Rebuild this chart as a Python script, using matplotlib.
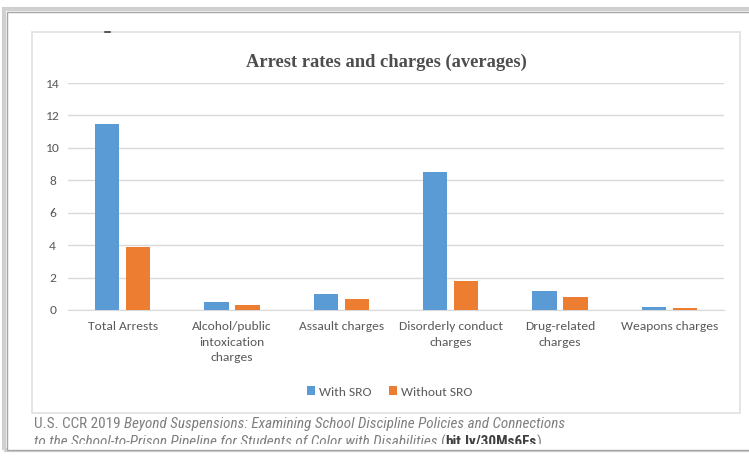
import matplotlib
matplotlib.use("Agg")
import matplotlib.pyplot as plt
from matplotlib.patches import Rectangle
from matplotlib.lines import Line2D
import numpy as np

categories = ["Total Arrests", "Alcohol/public\nintoxication\ncharges", "Assault charges",
              "Disorderly conduct\ncharges", "Drug-related\ncharges", "Weapons charges"]
with_sro = [11.5, 0.5, 1.0, 8.5, 1.2, 0.2]
without_sro = [3.9, 0.3, 0.7, 1.8, 0.8, 0.1]
yticks = [0, 2, 4, 6, 8, 10, 12, 14]
series_names = ["With SRO", "Without SRO"]
title = "Arrest rates and charges (averages)"

W, H = 749, 457
fig = plt.figure(figsize=(W / 100, H / 100), dpi=100)
fig.patch.set_facecolor("white")

def fx(x):
    return x / W

def fy(y):
    return 1 - y / H

SANS = ["Carlito", "DejaVu Sans"]
FOOT = ["Roboto Condensed", "DejaVu Sans"]
BLUE = "#5B9BD5"
ORANGE = "#ED7D31"
GRAY = "#595959"

# outer frame with shadow
fig.add_artist(Rectangle((fx(4), fy(450)), fx(760), fy(9) - fy(450), transform=fig.transFigure,
                         facecolor="none", edgecolor="#D0D0D0", lw=3, zorder=-3))
fig.add_artist(Rectangle((fx(7), fy(450)), fx(760), fy(12) - fy(450), transform=fig.transFigure,
                         facecolor="white", edgecolor="#A6A6A6", lw=1, zorder=-2))
# inner chart box
fig.add_artist(Rectangle((fx(32), fy(413)), fx(740 - 32), fy(32) - fy(413), transform=fig.transFigure,
                         facecolor="white", edgecolor="#E0E0E0", lw=1.2, zorder=-1))
# small dash
fig.add_artist(Line2D([fx(105), fx(110)], [fy(31.5), fy(31.5)], transform=fig.transFigure,
                      color="#404040", lw=1.2))

ax = fig.add_axes([fx(68), fy(310), fx(724 - 68), fy(83) - fy(310)])
ax.set_zorder(2)
ax.set_facecolor("none")
x = np.arange(len(categories))
bw = 0.22
off = 0.142
ax.bar(x - off, with_sro, bw, color=BLUE, label=series_names[0], zorder=3)
ax.bar(x + off, without_sro, bw, color=ORANGE, label=series_names[1], zorder=3)
ax.set_xlim(-0.5, len(categories) - 0.5)
ax.set_ylim(0, 14)
ax.set_yticks(yticks)
ax.yaxis.grid(True, color="#D9D9D9", lw=1)
ax.set_axisbelow(True)
for s in ["top", "right", "left"]:
    ax.spines[s].set_visible(False)
ax.spines["bottom"].set_color("#D9D9D9")
ax.tick_params(axis="both", length=0, colors=GRAY)
ax.tick_params(axis="y", pad=11)
ax.tick_params(axis="x", pad=8)
ax.set_xticks(x)
ax.set_xticklabels(categories, fontsize=9.7, family=SANS, linespacing=1.5, va="top")
for lab in ax.get_yticklabels():
    lab.set_fontsize(9.7)
    lab.set_family(SANS)
    lab.set_horizontalalignment("center")

fig.text(fx(386), fy(62), title, ha="center", va="center", fontsize=13.3, fontweight="bold",
         family=["Liberation Serif", "DejaVu Serif"], color="#4D4D4D")

leg = fig.legend(loc="center", bbox_to_anchor=(fx(390), fy(392)), ncol=2, frameon=False,
                 prop={"family": SANS, "size": 9.7}, handlelength=0.6, handleheight=0.6,
                 handletextpad=0.3, columnspacing=1.3, labelcolor=GRAY)

# footer with mixed styles
fig.canvas.draw()
renderer = fig.canvas.get_renderer()
fcol = "#7F7F7F"

line1 = [("U.S. CCR 2019 ", "normal", "normal", fcol),
         ("Beyond Suspensions: Examining School Discipline Policies and Connections", "italic", "normal", fcol)]
line2 = [("to the School-to-Prison Pipeline for Students of Color with Disabilities ", "italic", "normal", fcol),
         ("(", "normal", "normal", fcol),
         ("bit.ly/30Ms6Fs", "normal", "bold", "#404040"),
         (")", "normal", "normal", fcol)]

def measure(pieces, size):
    w = 0
    for txt, style, weight, col in pieces:
        t = fig.text(0, 0, txt, fontsize=size, family=FOOT, style=style, fontweight=weight)
        w += t.get_window_extent(renderer).width
        t.remove()
    return w

fsize = 11 * (563 - 34) / measure(line1, 11)

def run(pieces, x0, y0, clip=None):
    xp = x0
    for txt, style, weight, col in pieces:
        t = fig.text(fx(xp), fy(y0), txt, ha="left", va="center", fontsize=fsize,
                     family=FOOT, style=style, fontweight=weight, color=col)
        if clip is not None:
            t.set_clip_path(clip)
        bb = t.get_window_extent(renderer)
        xp += bb.width

run(line1, 34, 424)
clip = Rectangle((0, fy(444)), 1, 1 - fy(444), transform=fig.transFigure)
run(line2, 34, 442, clip=clip)

fig.savefig("out.png", dpi=100, facecolor="white")
